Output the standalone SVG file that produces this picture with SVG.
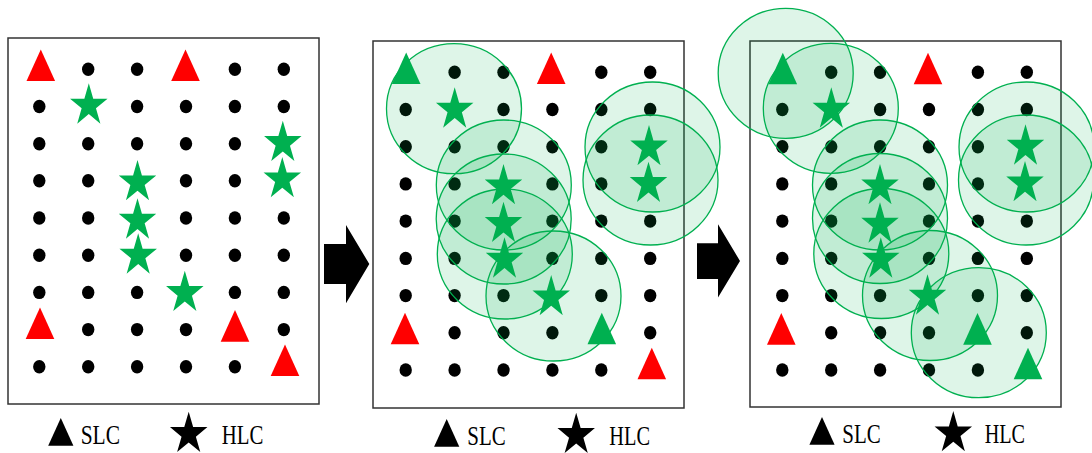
<svg xmlns="http://www.w3.org/2000/svg" width="1092" height="453" viewBox="0 0 1092 453">
  <style>
    .frame{fill:#fff;stroke:#333;stroke-width:1.5}
    .dot{fill:#000}
    .range{fill:#00B050;fill-opacity:.13;stroke:#00B050;stroke-width:1.3}
    .hlc{fill:#00B050}
    .slc-r{fill:#FF0000}
    .slc-g{fill:#00B050}
    .key{fill:#000}
    .lbl{font-family:"Liberation Serif","Times New Roman",serif;font-size:26.5px;fill:#000}
  </style>
  <defs>
    <ellipse id="dot" rx="6.2" ry="6.7"/>
    <ellipse id="range" rx="67.5" ry="65"/>
    <path id="star" d="M0,-22.3 L4.43,-6.89 L18.74,-6.89 L7.16,2.63 L11.58,18.04 L0,8.52 L-11.58,18.04 L-7.16,2.63 L-18.74,-6.89 L-4.43,-6.89 Z"/>
    <path id="tri" d="M0,-31.6 L14.3,0 L-14.3,0 Z"/>
    <path id="ktri" d="M0,-27.6 L12.6,0 L-12.6,0 Z"/>
  </defs>

  <!-- Panel 1: initial placement -->
  <g id="panel1">
    <rect class="frame" x="8" y="38" width="311" height="366"/>
    <g id="panel1-dots" class="dot">
      <use href="#dot" x="88.2" y="69.3"/><use href="#dot" x="137.1" y="69.3"/><use href="#dot" x="234.9" y="69.3"/><use href="#dot" x="283.8" y="69.3"/>
      <use href="#dot" x="39.3" y="106.5"/><use href="#dot" x="137.1" y="106.5"/><use href="#dot" x="186" y="106.5"/><use href="#dot" x="234.9" y="106.5"/><use href="#dot" x="283.8" y="106.5"/>
      <use href="#dot" x="39.3" y="143.7"/><use href="#dot" x="88.2" y="143.7"/><use href="#dot" x="137.1" y="143.7"/><use href="#dot" x="186" y="143.7"/><use href="#dot" x="234.9" y="143.7"/>
      <use href="#dot" x="39.3" y="180.8"/><use href="#dot" x="88.2" y="180.8"/><use href="#dot" x="186" y="180.8"/><use href="#dot" x="234.9" y="180.8"/>
      <use href="#dot" x="39.3" y="218"/><use href="#dot" x="88.2" y="218"/><use href="#dot" x="186" y="218"/><use href="#dot" x="234.9" y="218"/><use href="#dot" x="283.8" y="218"/>
      <use href="#dot" x="39.3" y="255.2"/><use href="#dot" x="88.2" y="255.2"/><use href="#dot" x="186" y="255.2"/><use href="#dot" x="234.9" y="255.2"/><use href="#dot" x="283.8" y="255.2"/>
      <use href="#dot" x="39.3" y="292.4"/><use href="#dot" x="88.2" y="292.4"/><use href="#dot" x="137.1" y="292.4"/><use href="#dot" x="234.9" y="292.4"/><use href="#dot" x="283.8" y="292.4"/>
      <use href="#dot" x="88.2" y="329.6"/><use href="#dot" x="137.1" y="329.6"/><use href="#dot" x="186" y="329.6"/><use href="#dot" x="283.8" y="329.6"/>
      <use href="#dot" x="39.3" y="366.7"/><use href="#dot" x="88.2" y="366.7"/><use href="#dot" x="137.1" y="366.7"/><use href="#dot" x="186" y="366.7"/><use href="#dot" x="234.9" y="366.7"/>
    </g>
    <g id="panel1-hlc" class="hlc">
      <use href="#star" x="88.8" y="105.6"/>
      <use href="#star" x="282.8" y="143"/>
      <use href="#star" x="282.3" y="179.3"/>
      <use href="#star" x="137.5" y="182.3"/>
      <use href="#star" x="137.5" y="220.6"/>
      <use href="#star" x="138.2" y="255.6"/>
      <use href="#star" x="184.8" y="293"/>
    </g>
    <g id="panel1-slc">
      <use class="slc-r" href="#tri" x="40.8" y="81"/>
      <use class="slc-r" href="#tri" x="185.5" y="81"/>
      <use class="slc-r" href="#tri" x="40" y="339"/>
      <use class="slc-r" href="#tri" x="235" y="341.7"/>
      <use class="slc-r" href="#tri" x="285" y="376"/>
    </g>
  </g>

  <!-- Panel 2 -->
  <g id="panel2">
    <rect class="frame" x="373" y="41" width="311" height="367"/>
    <g id="panel2-dots" class="dot">
      <use href="#dot" x="454.6" y="72.3"/><use href="#dot" x="503.5" y="72.3"/><use href="#dot" x="601.3" y="72.3"/><use href="#dot" x="650.2" y="72.3"/>
      <use href="#dot" x="405.7" y="109.5"/><use href="#dot" x="503.5" y="109.5"/><use href="#dot" x="552.4" y="109.5"/><use href="#dot" x="601.3" y="109.5"/><use href="#dot" x="650.2" y="109.5"/>
      <use href="#dot" x="405.7" y="146.7"/><use href="#dot" x="454.6" y="146.7"/><use href="#dot" x="503.5" y="146.7"/><use href="#dot" x="552.4" y="146.7"/><use href="#dot" x="601.3" y="146.7"/>
      <use href="#dot" x="405.7" y="183.9"/><use href="#dot" x="454.6" y="183.9"/><use href="#dot" x="552.4" y="183.9"/><use href="#dot" x="601.3" y="183.9"/>
      <use href="#dot" x="405.7" y="221.1"/><use href="#dot" x="454.6" y="221.1"/><use href="#dot" x="552.4" y="221.1"/><use href="#dot" x="601.3" y="221.1"/><use href="#dot" x="650.2" y="221.1"/>
      <use href="#dot" x="405.7" y="258.4"/><use href="#dot" x="454.6" y="258.4"/><use href="#dot" x="552.4" y="258.4"/><use href="#dot" x="601.3" y="258.4"/><use href="#dot" x="650.2" y="258.4"/>
      <use href="#dot" x="405.7" y="295.6"/><use href="#dot" x="454.6" y="295.6"/><use href="#dot" x="503.5" y="295.6"/><use href="#dot" x="601.3" y="295.6"/><use href="#dot" x="650.2" y="295.6"/>
      <use href="#dot" x="454.6" y="332.8"/><use href="#dot" x="503.5" y="332.8"/><use href="#dot" x="552.4" y="332.8"/><use href="#dot" x="650.2" y="332.8"/>
      <use href="#dot" x="405.7" y="370"/><use href="#dot" x="454.6" y="370"/><use href="#dot" x="503.5" y="370"/><use href="#dot" x="552.4" y="370"/><use href="#dot" x="601.3" y="370"/>
    </g>
    <g id="panel2-ranges" class="range">
      <use href="#range" x="454" y="108.7"/>
      <use href="#range" x="503.8" y="185"/>
      <use href="#range" x="503.7" y="219"/>
      <use href="#range" x="504.8" y="254"/>
      <use href="#range" x="553.5" y="296"/>
      <use href="#range" x="652.5" y="147"/>
      <use href="#range" x="650.5" y="180"/>
    </g>
    <g id="panel2-hlc" class="hlc">
      <use href="#star" x="454.7" y="109.6"/>
      <use href="#star" x="503.5" y="186.3"/>
      <use href="#star" x="503.5" y="224"/>
      <use href="#star" x="504.5" y="259.6"/>
      <use href="#star" x="551.2" y="297.3"/>
      <use href="#star" x="649" y="147.3"/>
      <use href="#star" x="648.5" y="184"/>
    </g>
    <g id="panel2-slc">
      <use class="slc-g" href="#tri" x="406.2" y="84"/>
      <use class="slc-r" href="#tri" x="551.2" y="84"/>
      <use class="slc-r" href="#tri" x="405" y="344.3"/>
      <use class="slc-g" href="#tri" x="601.8" y="344.3"/>
      <use class="slc-r" href="#tri" x="651.8" y="379.3"/>
    </g>
  </g>

  <!-- Panel 3 -->
  <g id="panel3">
    <rect class="frame" x="750" y="41" width="311" height="366"/>
    <g id="panel3-dots" class="dot">
      <use href="#dot" x="831.2" y="72.3"/><use href="#dot" x="880.1" y="72.3"/><use href="#dot" x="977.9" y="72.3"/><use href="#dot" x="1026.8" y="72.3"/>
      <use href="#dot" x="782.3" y="109.5"/><use href="#dot" x="880.1" y="109.5"/><use href="#dot" x="929" y="109.5"/><use href="#dot" x="977.9" y="109.5"/><use href="#dot" x="1026.8" y="109.5"/>
      <use href="#dot" x="782.3" y="146.7"/><use href="#dot" x="831.2" y="146.7"/><use href="#dot" x="880.1" y="146.7"/><use href="#dot" x="929" y="146.7"/><use href="#dot" x="977.9" y="146.7"/>
      <use href="#dot" x="782.3" y="183.9"/><use href="#dot" x="831.2" y="183.9"/><use href="#dot" x="929" y="183.9"/><use href="#dot" x="977.9" y="183.9"/>
      <use href="#dot" x="782.3" y="221.1"/><use href="#dot" x="831.2" y="221.1"/><use href="#dot" x="929" y="221.1"/><use href="#dot" x="977.9" y="221.1"/><use href="#dot" x="1026.8" y="221.1"/>
      <use href="#dot" x="782.3" y="258.4"/><use href="#dot" x="831.2" y="258.4"/><use href="#dot" x="929" y="258.4"/><use href="#dot" x="977.9" y="258.4"/><use href="#dot" x="1026.8" y="258.4"/>
      <use href="#dot" x="782.3" y="295.6"/><use href="#dot" x="831.2" y="295.6"/><use href="#dot" x="880.1" y="295.6"/><use href="#dot" x="977.9" y="295.6"/><use href="#dot" x="1026.8" y="295.6"/>
      <use href="#dot" x="831.2" y="332.8"/><use href="#dot" x="880.1" y="332.8"/><use href="#dot" x="929" y="332.8"/><use href="#dot" x="1026.8" y="332.8"/>
      <use href="#dot" x="782.3" y="370"/><use href="#dot" x="831.2" y="370"/><use href="#dot" x="880.1" y="370"/><use href="#dot" x="929" y="370"/><use href="#dot" x="977.9" y="370"/>
    </g>
    <g id="panel3-ranges" class="range">
      <use href="#range" x="785.7" y="73.3"/>
      <use href="#range" x="830.8" y="108.3"/>
      <use href="#range" x="880" y="185"/>
      <use href="#range" x="880" y="218.5"/>
      <use href="#range" x="881.3" y="253.5"/>
      <use href="#range" x="930" y="295.5"/>
      <use href="#range" x="978.8" y="332.7"/>
      <use href="#range" x="1026.5" y="147"/>
      <use href="#range" x="1026" y="180"/>
    </g>
    <g id="panel3-hlc" class="hlc">
      <use href="#star" x="831.3" y="109.6"/>
      <use href="#star" x="880" y="186.3"/>
      <use href="#star" x="880" y="224.6"/>
      <use href="#star" x="880.8" y="259.6"/>
      <use href="#star" x="927.5" y="296.6"/>
      <use href="#star" x="1025.5" y="146.6"/>
      <use href="#star" x="1025" y="183.3"/>
    </g>
    <g id="panel3-slc">
      <use class="slc-g" href="#tri" x="782.8" y="84.3"/>
      <use class="slc-r" href="#tri" x="928" y="84.3"/>
      <use class="slc-r" href="#tri" x="781.3" y="344.7"/>
      <use class="slc-g" href="#tri" x="977.5" y="344.7"/>
      <use class="slc-g" href="#tri" x="1028" y="379.3"/>
    </g>
  </g>

  <!-- Step arrows between panels -->
  <g id="arrows" fill="#000">
    <polygon points="324,244 346,244 346,225 369.3,264 346,303.3 346,284 324,284"/>
    <polygon points="697,243.3 718,243.3 718,224.3 740,261 718,297.5 718,279 697,279"/>
  </g>

  <!-- Legends -->
  <g id="legend1">
    <use class="key" href="#ktri" x="60.8" y="445.7"/>
    <text class="lbl" x="80.7" y="444.3" textLength="39.3" lengthAdjust="spacingAndGlyphs">SLC</text>
    <use class="key" href="#star" x="188.7" y="434"/>
    <text class="lbl" x="221.7" y="444" textLength="41.6" lengthAdjust="spacingAndGlyphs">HLC</text>
  </g>
  <g id="legend2">
    <use class="key" href="#ktri" x="446.7" y="446.7"/>
    <text class="lbl" x="467.3" y="445" textLength="38.4" lengthAdjust="spacingAndGlyphs">SLC</text>
    <use class="key" href="#star" x="576.2" y="435"/>
    <text class="lbl" x="609.3" y="445" textLength="40.7" lengthAdjust="spacingAndGlyphs">HLC</text>
  </g>
  <g id="legend3">
    <use class="key" href="#ktri" x="822" y="444.7"/>
    <text class="lbl" x="842.3" y="443.3" textLength="38.4" lengthAdjust="spacingAndGlyphs">SLC</text>
    <use class="key" href="#star" x="953.3" y="433.3"/>
    <text class="lbl" x="984.7" y="443" textLength="40.3" lengthAdjust="spacingAndGlyphs">HLC</text>
  </g>
</svg>
